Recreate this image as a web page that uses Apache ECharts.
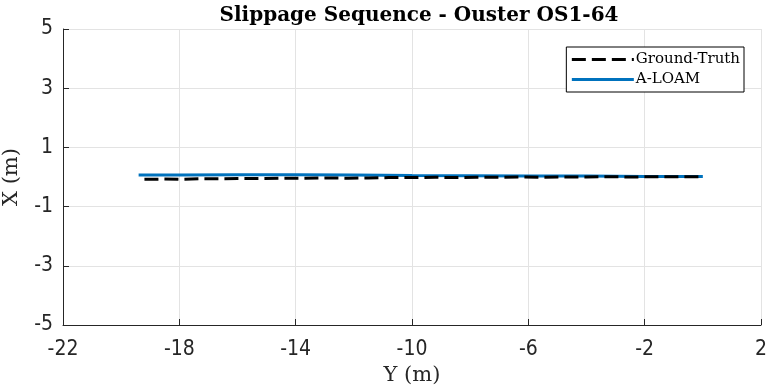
<!DOCTYPE html>
<html><head><meta charset="utf-8">
<script src="https://cdn.jsdelivr.net/npm/echarts@6/dist/echarts.min.js"></script>
<style>html,body{margin:0;padding:0;background:#fff}#c{width:768px;height:389px}</style>
</head><body><div id="c"></div>
<script>
// Ground truth trajectory (Y, X) in metres
const gtY = [-19.2, -18.6, -18.0, -17.3, -16.6, -16.0, -15.2, -14.5, -13.8, -13.0, -12.2, -11.5, -10.8, -10.0, -9.2, -8.5, -7.8, -7.0, -6.2, -5.5, -4.8, -4.0, -3.2, -2.5, -1.8, -1.0, -0.4, 0.0];
const gtX = [-0.08, -0.07, -0.08, -0.06, -0.06, -0.05, -0.05, -0.04, -0.04, -0.03, -0.04, -0.03, -0.02, -0.02, -0.01, -0.02, -0.01, -0.01, 0.0, -0.01, 0.0, 0.0, 0.01, 0.0, 0.01, 0.01, 0.01, 0.01];
// A-LOAM estimate (Y, X) in metres
const loamY = [-19.4, -18.0, -16.0, -14.0, -12.0, -10.0, -8.0, -6.0, -4.0, -2.0, 0.0];
const loamX = [0.07, 0.07, 0.08, 0.08, 0.07, 0.05, 0.04, 0.03, 0.03, 0.02, 0.02];
const xTicks = [-22, -18, -14, -10, -6, -2, 2];
const yTicks = [-5, -3, -1, 1, 3, 5];

const pair = (a, b) => a.map((v, i) => [v, b[i]]);
const chart = echarts.init(document.getElementById('c'));
const serif = '"DejaVu Serif","Liberation Serif",serif';
const sans = '"DejaVu Sans Condensed","DejaVu Sans","Liberation Sans",sans-serif';
chart.setOption({
  animation: false,
  title: {
    text: 'Slippage Sequence - Ouster OS1-64',
    left: 414, top: 1, textAlign: 'center',
    textStyle: {fontFamily: serif, fontWeight: 'bold', fontSize: 20, color: '#000'}
  },
  legend: {
    right: 24, top: 47, orient: 'vertical',
    itemWidth: 62, itemHeight: 14, itemGap: 5,
    borderColor: '#000', borderWidth: 1, backgroundColor: '#fff',
    padding: [5, 4, 5, 4],
    itemStyle: {opacity: 0},
    lineStyle: {width: 3},
    textStyle: {fontFamily: serif, fontSize: 15, color: '#000', padding: [0, 0, 0, -3]},
    data: ['Ground-Truth', 'A-LOAM']
  },
  grid: {left: 63, right: 7, top: 29, bottom: 64, containLabel: false, outerBoundsMode: 'none'},
  xAxis: {
    type: 'value', min: xTicks[0], max: xTicks[xTicks.length - 1], interval: 4,
    name: 'Y (m)', nameLocation: 'middle', nameGap: 40,
    nameTextStyle: {fontFamily: serif, fontSize: 21, color: '#262626'},
    axisLine: {show: true, onZero: false, lineStyle: {color: '#262626', width: 1}},
    axisTick: {show: true, inside: true, length: 6, lineStyle: {color: '#262626'}},
    axisLabel: {fontFamily: sans, fontSize: 21, color: '#262626', margin: 14},
    splitLine: {show: true, lineStyle: {color: '#e3e3e3', width: 1}}
  },
  yAxis: {
    type: 'value', min: yTicks[0], max: yTicks[yTicks.length - 1], interval: 2,
    name: 'X (m)', nameLocation: 'middle', nameGap: 41, nameRotate: 90,
    nameTextStyle: {fontFamily: serif, fontSize: 21, color: '#262626'},
    axisLine: {show: true, onZero: false, lineStyle: {color: '#262626', width: 1}},
    axisTick: {show: true, inside: true, length: 6, lineStyle: {color: '#262626'}},
    axisLabel: {fontFamily: sans, fontSize: 21, color: '#262626', margin: 10},
    splitLine: {show: true, lineStyle: {color: '#e3e3e3', width: 1}}
  },
  series: [
    {
      name: 'A-LOAM', type: 'line', data: pair(loamY, loamX), symbol: 'none', z: 2,
      itemStyle: {color: '#0072BD'},
      lineStyle: {color: '#0072BD', width: 3}
    },
    {
      name: 'Ground-Truth', type: 'line', data: pair(gtY, gtX), symbol: 'none', z: 3,
      itemStyle: {color: '#000'},
      lineStyle: {color: '#000', width: 3, type: [14, 6]}
    }
  ]
});
</script></body></html>
